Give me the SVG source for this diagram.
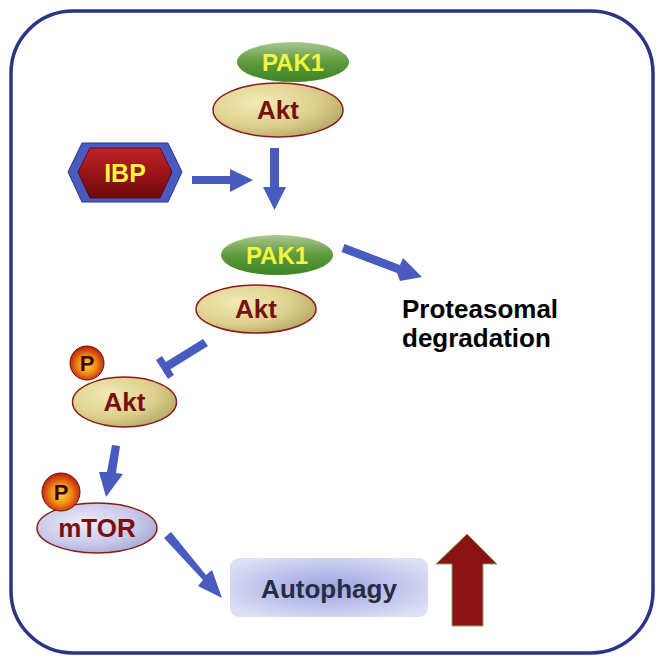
<svg xmlns="http://www.w3.org/2000/svg" width="664" height="664" viewBox="0 0 664 664">
<defs>
<radialGradient id="gAkt" cx="0.35" cy="0.35" r="0.75">
<stop offset="0" stop-color="#f3eab4"/><stop offset="0.6" stop-color="#ddd08e"/><stop offset="1" stop-color="#b3a462"/>
</radialGradient>
<linearGradient id="gPak" x1="0" y1="0" x2="0" y2="1">
<stop offset="0" stop-color="#a9c88f"/><stop offset="0.5" stop-color="#5f9a3c"/><stop offset="1" stop-color="#3d8425"/>
</linearGradient>
<radialGradient id="gP" cx="0.5" cy="0.55" r="0.55">
<stop offset="0" stop-color="#ffd43a"/><stop offset="0.5" stop-color="#f08a14"/><stop offset="1" stop-color="#b81810"/>
</radialGradient>
<radialGradient id="gM" cx="0.4" cy="0.4" r="0.75">
<stop offset="0" stop-color="#eeeefa"/><stop offset="0.6" stop-color="#c6c6e8"/><stop offset="1" stop-color="#9c9ccc"/>
</radialGradient>
<radialGradient id="gAuto" cx="0.5" cy="0.5" r="0.6">
<stop offset="0" stop-color="#9aa3e0"/><stop offset="1" stop-color="#dcdff5"/>
</radialGradient>
<linearGradient id="gIBP" x1="0" y1="0" x2="0" y2="1">
<stop offset="0" stop-color="#c0242a"/><stop offset="0.5" stop-color="#9a1418"/><stop offset="1" stop-color="#6a0a0c"/>
</linearGradient>
<style>
.akt{fill:url(#gAkt);stroke:#8b1a1a;stroke-width:1.5}
.pak{fill:url(#gPak)}
.lbl{font-family:"Liberation Sans",Arial,sans-serif;font-weight:bold;text-anchor:middle}
.aktt{fill:#7a0f12;font-size:26px}
.pakt{fill:#f4f442;font-size:24px}
.arr{fill:#4a5bbf}
.pt{fill:#3a0a0a;font-size:22px}
</style>
</defs>
<rect x="11" y="11" width="642" height="642" rx="62" ry="62" fill="#fff" stroke="#2b3585" stroke-width="3.5"/>

<g id="connectors">
<polygon class="arr" points="270,148 279,148 279,187 286,187 274.5,210 263,187 270,187"/>
<polygon class="arr" points="192,176 230,176 230,169 253,180 230,192 230,184 192,184"/>
<polygon class="arr" points="344.5,244 400,265 403,258 422,277 400,281 397,273 341.5,252"/>
<g fill="#4a5bbf">
<polygon points="203,339 208,346 166,372 161,365"/>
<polygon points="156,360 162,356 174,375 168,379"/>
</g>
<polygon class="arr" points="112,445 120,446 116,473 123,474 106,497 99,472 107,472"/>
<polygon class="arr" points="164,538 171,532 206,575 212,570 222,598 198,586 203,580"/>
</g>

<g id="pak1-top">
<ellipse class="pak" cx="293" cy="62" rx="56" ry="20"/>
<text class="lbl pakt" x="293" y="71">PAK1</text>
</g>
<g id="akt-top">
<ellipse class="akt" cx="278" cy="110" rx="65" ry="27"/>
<text class="lbl aktt" x="278" y="119">Akt</text>
</g>

<g id="ibp">
<polygon points="68,172 82,143 168,143 182,172 168,202 82,202" fill="#4a5bbf" stroke="#2b3585" stroke-width="1"/>
<polygon points="78,172 90,148 160,148 172,172 160,198 90,198" fill="url(#gIBP)" stroke="#5a0a0a" stroke-width="1"/>
<text class="lbl" x="125" y="182" fill="#f4f442" font-size="25">IBP</text>
</g>

<g id="pak1-mid">
<ellipse class="pak" cx="277" cy="255" rx="56" ry="20"/>
<text class="lbl pakt" x="277" y="264">PAK1</text>
</g>
<g id="akt-mid">
<ellipse class="akt" cx="256" cy="309" rx="60" ry="24"/>
<text class="lbl aktt" x="256" y="318">Akt</text>
</g>

<g id="proteasomal">
<text font-family="'Liberation Sans',Arial,sans-serif" font-weight="bold" font-size="26" fill="#000" x="402" y="318">Proteasomal</text>
<text font-family="'Liberation Sans',Arial,sans-serif" font-weight="bold" font-size="26" fill="#000" x="402" y="347">degradation</text>
</g>

<g id="p-akt">
<ellipse class="akt" cx="124.5" cy="402" rx="52" ry="25"/>
<text class="lbl aktt" x="124.5" y="411">Akt</text>
<circle cx="87" cy="363" r="17" fill="url(#gP)" stroke="#7a0a0a" stroke-width="1"/>
<text class="lbl pt" x="87" y="371">P</text>
</g>

<g id="p-mtor">
<ellipse cx="97" cy="528" rx="60" ry="25" fill="url(#gM)" stroke="#8b1a1a" stroke-width="1.5"/>
<text class="lbl aktt" x="97" y="537" font-size="25">mTOR</text>
<circle cx="61" cy="492" r="19" fill="url(#gP)" stroke="#7a0a0a" stroke-width="1"/>
<text class="lbl pt" x="61" y="500">P</text>
</g>

<g id="autophagy">
<rect x="230" y="558" width="198" height="59" rx="9" fill="url(#gAuto)"/>
<text class="lbl" x="329" y="598" fill="#282c40" font-size="26">Autophagy</text>
</g>

<g id="up-arrow">
<polygon points="467,534 497,564 483,564 483,626 452,626 452,564 436,564" fill="#8b1214" stroke="#7ab05a" stroke-width="1"/>
</g>
</svg>
